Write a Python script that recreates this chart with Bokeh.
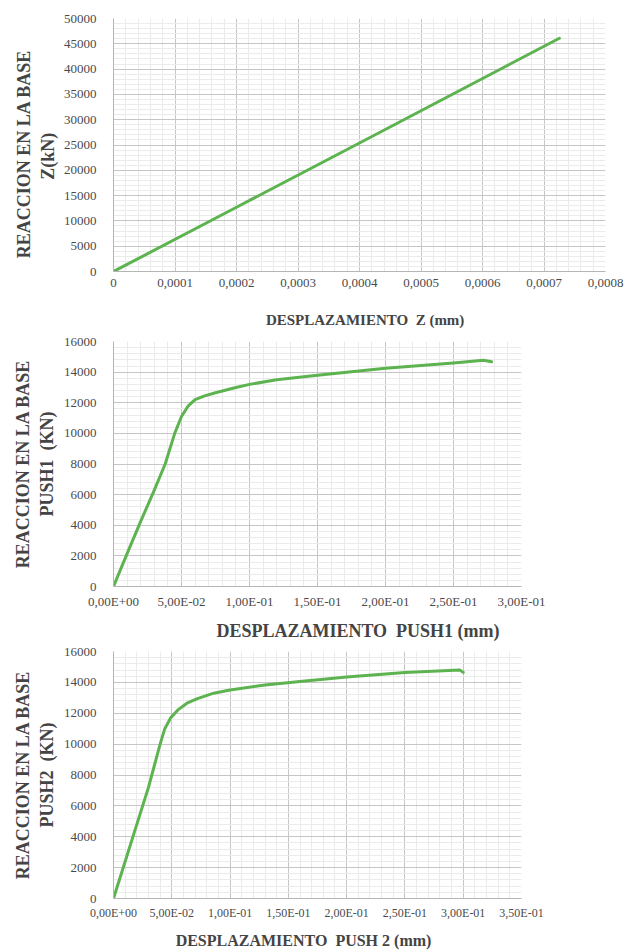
from bokeh.plotting import figure
from bokeh.layouts import column
from bokeh.models import FixedTicker, Range1d
from bokeh.embed import file_html
from bokeh.resources import INLINE

# ---------------- data ----------------
# Chart 1: vertical push (Z)
z_disp = [0.0, 0.0002, 0.0004, 0.000725]
z_force = [0, 12700, 25400, 46100]
z_xticks = [0.0, 0.0001, 0.0002, 0.0003, 0.0004, 0.0005, 0.0006, 0.0007, 0.0008]
z_xlabels = ["0", "0,0001", "0,0002", "0,0003", "0,0004", "0,0005", "0,0006", "0,0007", "0,0008"]
z_yticks = [0, 5000, 10000, 15000, 20000, 25000, 30000, 35000, 40000, 45000, 50000]

# Chart 2: PUSH1
p1_disp = [0.0, 0.01, 0.02, 0.03, 0.038, 0.045, 0.050, 0.055, 0.060, 0.067, 0.075,
           0.09, 0.10, 0.12, 0.15, 0.20, 0.25, 0.272, 0.278]
p1_force = [0, 2150, 4250, 6300, 8000, 10000, 11100, 11800, 12200, 12450, 12650,
            13000, 13200, 13500, 13800, 14250, 14600, 14780, 14680]
p1_xticks = [0.0, 0.05, 0.10, 0.15, 0.20, 0.25, 0.30]
p1_xlabels = ["0,00E+00", "5,00E-02", "1,00E-01", "1,50E-01", "2,00E-01", "2,50E-01", "3,00E-01"]
p1_yticks = [0, 2000, 4000, 6000, 8000, 10000, 12000, 14000, 16000]

# Chart 3: PUSH2
p2_disp = [0.0, 0.01, 0.02, 0.03, 0.035, 0.040, 0.044, 0.049, 0.055, 0.063, 0.072,
           0.086, 0.10, 0.13, 0.16, 0.20, 0.25, 0.297, 0.300]
p2_force = [0, 2400, 4800, 7200, 8600, 10000, 11000, 11700, 12200, 12650, 12950,
            13300, 13500, 13830, 14050, 14350, 14640, 14800, 14650]
p2_xticks = [0.0, 0.05, 0.10, 0.15, 0.20, 0.25, 0.30, 0.35]
p2_xlabels = ["0,00E+00", "5,00E-02", "1,00E-01", "1,50E-01", "2,00E-01", "2,50E-01", "3,00E-01", "3,50E-01"]
p2_yticks = [0, 2000, 4000, 6000, 8000, 10000, 12000, 14000, 16000]

LINE = "#5db34f"
SERIF = "Liberation Serif"
TICK_C = "#4a4a4a"
TITLE_C = "#444444"
NB = "\u00a0"


def minor(ticks, n=5):
    out = []
    for a, b in zip(ticks[:-1], ticks[1:]):
        step = (b - a) / n
        out += [a + step * k for k in range(1, n)]
    return out


def make(xs, ys, xticks, xlabels, yticks, xtitle, ytitle, width, height,
         left, right, top, bottom, ytick_fs, xtick_fs, xtitle_fs, ytitle_fs,
         x_title_standoff, y_title_standoff):
    p = figure(width=width, height=height, output_backend="svg", toolbar_location=None,
               x_range=Range1d(xticks[0], xticks[-1]), y_range=Range1d(yticks[0], yticks[-1]),
               min_border_left=left, min_border_right=right,
               min_border_top=top, min_border_bottom=bottom)
    p.outline_line_color = None
    p.background_fill_color = "white"
    p.border_fill_color = "white"

    p.xaxis.ticker = FixedTicker(ticks=xticks)
    p.xaxis.major_label_overrides = {t: l for t, l in zip(xticks, xlabels)}
    p.yaxis.ticker = FixedTicker(ticks=yticks)
    p.yaxis.major_label_overrides = {t: str(t) for t in yticks}

    for ax in (p.xaxis[0], p.yaxis[0]):
        ax.axis_line_color = "#b5b5b5"
        ax.major_tick_line_color = None
        ax.minor_tick_line_color = None
        ax.major_label_text_font = SERIF
        ax.major_label_text_color = TICK_C
        ax.axis_label_text_font = SERIF
        ax.axis_label_text_font_style = "bold"
        ax.axis_label_text_color = TITLE_C
    p.yaxis.major_label_text_font_size = f"{ytick_fs}px"
    p.xaxis.major_label_text_font_size = f"{xtick_fs}px"
    p.xaxis.major_label_standoff = 1
    p.yaxis.major_label_standoff = 11

    p.xaxis.axis_label = xtitle
    p.xaxis.axis_label_text_font_size = f"{xtitle_fs}px"
    p.xaxis.axis_label_standoff = x_title_standoff
    p.yaxis.axis_label = ytitle
    p.yaxis.axis_label_text_font_size = f"{ytitle_fs}px"
    p.yaxis.axis_label_standoff = y_title_standoff

    p.xgrid.ticker = FixedTicker(ticks=xticks, minor_ticks=minor(xticks))
    p.ygrid.ticker = FixedTicker(ticks=yticks, minor_ticks=minor(yticks))
    for g in (p.xgrid[0], p.ygrid[0]):
        g.grid_line_color = "#c6c6c6"
        g.grid_line_width = 1
        g.minor_grid_line_color = "#ebebeb"
        g.minor_grid_line_width = 1

    p.line(xs, ys, line_color=LINE, line_width=3, line_join="round", line_cap="round")
    return p


p1 = make(z_disp, z_force, z_xticks, z_xlabels, z_yticks,
          NB * 3 + "DESPLAZAMIENTO" + NB * 2 + "Z (mm)",
          "REACCION EN LA BASE" + NB * 4 + "\nZ(kN)" + NB * 5,
          631, 330, 113, 26, 18, 59, 13, 13, 15, 18, 22, 3)
p2 = make(p1_disp, p1_force, p1_xticks, p1_xlabels, p1_yticks,
          NB * 18 + "DESPLAZAMIENTO" + NB * 2 + "PUSH1 (mm)",
          "REACCION EN LA BASE\nPUSH1" + NB * 2 + "(KN)",
          547, 313, 113, 26, 11, 55, 13, 13, 18, 18, 9, 4)
p3 = make(p2_disp, p2_force, p2_xticks, p2_xlabels, p2_yticks,
          "DESPLAZAMIENTO" + NB * 2 + "PUSH 2 (mm)" + NB * 7,
          "REACCION EN LA BASE\nPUSH2" + NB * 2 + "(KN)",
          547, 308, 113, 26, 8, 51, 13, 12, 16, 18, 9, 4)

layout = column(p1, p2, p3, spacing=0)
open("out.html", "w").write(file_html(layout, INLINE))
